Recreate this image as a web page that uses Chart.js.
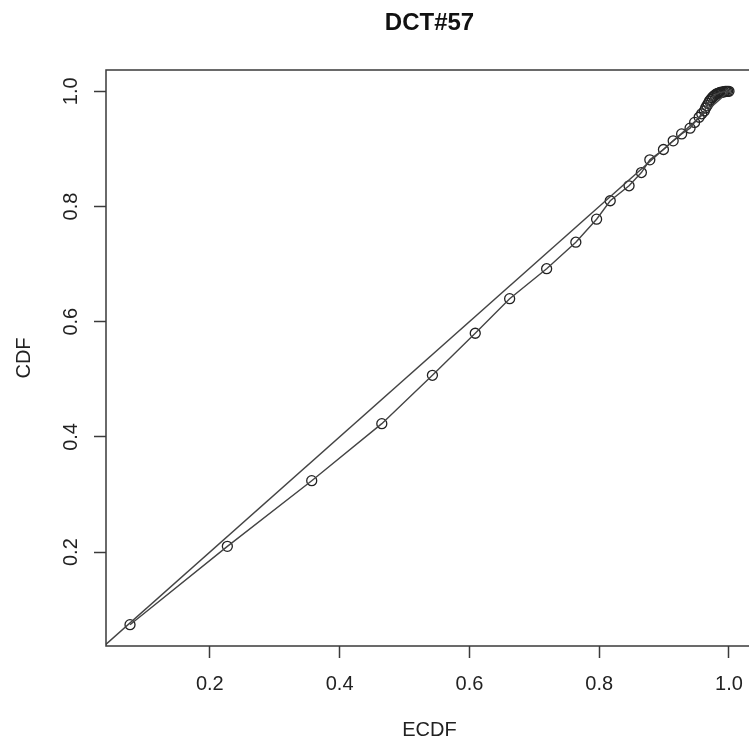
<!DOCTYPE html>
<html>
<head>
<meta charset="utf-8">
<title>DCT#57</title>
<script src="https://cdn.jsdelivr.net/npm/chart.js@4.4.1/dist/chart.umd.min.js"></script>
<style>
  html, body { margin: 0; padding: 0; background: #fff; overflow: hidden; }
  #marco-grafica { width: 749px; height: 742px; overflow: hidden; }
</style>
</head>
<body>
<div id="marco-grafica"><canvas id="grafica" width="760" height="742"></canvas></div>
<script>
// Valores (ECDF frente a CDF teórica)
const ecdf = [0.077, 0.227, 0.357, 0.465, 0.543, 0.609, 0.662, 0.719, 0.764, 0.796,
              0.817, 0.846, 0.865, 0.878, 0.899, 0.914, 0.927, 0.940, 0.947, 0.954,
              0.958, 0.962, 0.964, 0.966, 0.968, 0.970, 0.972, 0.974, 0.976, 0.978,
              0.980, 0.982, 0.984, 0.986, 0.988, 0.990, 0.992, 0.994, 0.996, 0.998,
              1.000];
const cdf  = [0.074, 0.210, 0.324, 0.423, 0.507, 0.580, 0.640, 0.692, 0.738, 0.778,
              0.810, 0.836, 0.859, 0.881, 0.899, 0.914, 0.926, 0.936, 0.946, 0.955,
              0.961, 0.966, 0.971, 0.975, 0.979, 0.983, 0.986, 0.989, 0.991, 0.993,
              0.995, 0.996, 0.997, 0.998, 0.998, 0.999, 0.999, 1.000, 1.000, 1.000,
              1.000];
const lineaReferencia = [0, 1];          // recta y = x
const ticksX = [0.2, 0.4, 0.6, 0.8, 1.0];
const ticksY = [0.2, 0.4, 0.6, 0.8, 1.0];
const etiquetasX = ["0.2", "0.4", "0.6", "0.8", "1.0"];
const etiquetasY = ["0.2", "0.4", "0.6", "0.8", "1.0"];
const titulo = 'DCT#57';

const puntos = ecdf.map((x, i) => ({ x: x, y: cdf[i] }));
const diagonal = lineaReferencia.map(v => ({ x: v, y: v }));

const fuente = "'Liberation Sans', Arial, Helvetica, sans-serif";
const gris = '#3a3a3a';

// Caja alrededor del área de dibujo y título centrado sobre ella (estilo R)
const marco = {
  id: 'marco',
  afterDatasetsDraw(chart) {
    const { ctx, chartArea: a } = chart;
    ctx.save();
    ctx.strokeStyle = gris;
    ctx.lineWidth = 1.5;
    ctx.strokeRect(a.left, a.top, a.right - a.left, a.bottom - a.top);
    ctx.fillStyle = '#111';
    ctx.font = "bold 24px " + fuente;
    ctx.textAlign = 'center';
    ctx.textBaseline = 'middle';
    ctx.fillText(titulo, (a.left + a.right) / 2, 23);
    ctx.restore();
  }
};

new Chart(document.querySelector('#grafica'), {
  type: 'scatter',
  data: {
    datasets: [
      {
        data: diagonal,
        showLine: true,
        borderColor: '#444',
        borderWidth: 1.4,
        pointRadius: 0
      },
      {
        data: puntos,
        showLine: true,
        borderColor: '#444',
        borderWidth: 1.4,
        pointRadius: 0
      },
      {
        data: puntos,
        showLine: false,
        pointRadius: 5,
        pointBorderWidth: 1.3,
        pointBorderColor: '#222',
        pointBackgroundColor: 'rgba(0,0,0,0)'
      }
    ]
  },
  options: {
    responsive: false,
    animation: false,
    layout: { padding: { left: 0, right: 7, top: 70, bottom: 0 } },
    plugins: {
      legend: { display: false },
      tooltip: { enabled: false },
      title: { display: false }
    },
    scales: {
      x: {
        type: 'linear',
        min: 0.040,
        max: 1.037,
        afterBuildTicks: s => { s.ticks = ticksX.map(v => ({ value: v })); },
        afterFit: s => { s.height = 96; },
        border: { display: false },
        grid: { drawOnChartArea: false, drawTicks: true, tickLength: 12, tickColor: gris, tickWidth: 1.5 },
        ticks: {
          padding: 14,
          color: '#222',
          font: { family: fuente, size: 20 },
          callback: v => etiquetasX[ticksX.indexOf(v)]
        },
        title: {
          display: true,
          text: 'ECDF',
          color: '#222',
          font: { family: fuente, size: 20 },
          padding: { top: 0, bottom: 0 }
        }
      },
      y: {
        type: 'linear',
        min: 0.037,
        max: 1.037,
        afterBuildTicks: s => { s.ticks = ticksY.map(v => ({ value: v })); },
        afterFit: s => { s.width = 106; },
        border: { display: false },
        grid: { drawOnChartArea: false, drawTicks: true, tickLength: 12, tickColor: gris, tickWidth: 1.5 },
        ticks: {
          padding: 9,
          minRotation: 90,
          maxRotation: 90,
          crossAlign: 'center',
          color: '#222',
          font: { family: fuente, size: 20 },
          callback: v => etiquetasY[ticksY.indexOf(v)]
        },
        title: {
          display: true,
          text: 'CDF',
          color: '#222',
          font: { family: fuente, size: 20 },
          padding: { top: 12, bottom: 0 }
        }
      }
    }
  },
  plugins: [marco]
});
</script>
</body>
</html>
